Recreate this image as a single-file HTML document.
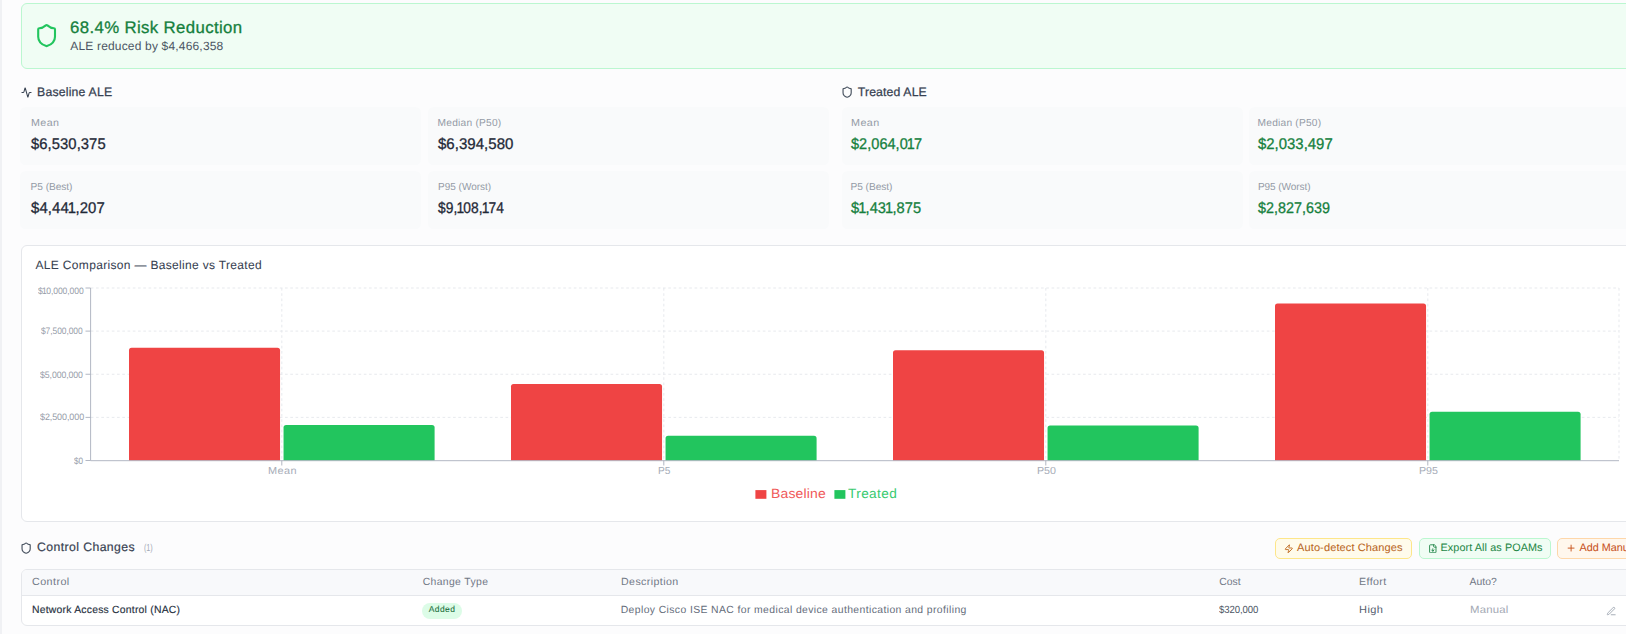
<!DOCTYPE html>
<html lang="en">
<head>
<meta charset="utf-8">
<title>ALE Comparison</title>
<style>
*{box-sizing:border-box;margin:0;padding:0}
html,body{width:1626px;height:634px;overflow:hidden;background:#fcfcfd}
body{font-family:"Liberation Sans",sans-serif;color:#1f2937;position:relative;text-rendering:geometricPrecision}
.abs{position:absolute}
.t{position:absolute;white-space:nowrap;line-height:1;transform-origin:0 50%}
.t i{font-style:normal;margin:0 -0.06em 0 -0.07em}
#edge{left:0;top:0;width:1.9px;height:634px;background:#f0f1f4}
#banner{left:20.6px;top:3px;width:1640px;height:66px;background:#f0fdf4;border:1px solid #bbf7d0;border-radius:6px}
.card{position:absolute;width:401px;height:58.4px;background:#f9fafb;border-radius:5.5px}
#chart{left:20.7px;top:245px;width:1640px;height:277px;background:#fff;border:1px solid #e5e7eb;border-radius:6px}
#tbl{left:20.7px;top:569px;width:1640px;height:57px;background:#fff;border:1px solid #e5e7eb;border-radius:6px;overflow:hidden}
#thead{left:0;top:0;width:1640px;height:26px;background:#f8f9fb;border-bottom:1px solid #e5e7eb}
.btn{position:absolute;height:20.6px;border-radius:5px;border:1px solid}
</style>
</head>
<body>
<div id="edge" class="abs"></div>
<div id="banner" class="abs"></div>
<svg class="abs" id="i_shield" style="left:34.40px;top:22.80px" width="25.2" height="25.2" viewBox="0 0 24 24" fill="none" stroke="#22c55e" stroke-width="2" stroke-linecap="round" stroke-linejoin="round"><path d="M20 13c0 5-3.5 7.5-7.66 8.95a1 1 0 0 1-.67-.01C7.5 20.5 4 18 4 13V6a1 1 0 0 1 1-1c2 0 4.5-1.2 6.24-2.72a1.17 1.17 0 0 1 1.52 0C14.51 3.81 17 5 19 5a1 1 0 0 1 1 1z"/></svg>
<svg class="abs" id="i_act" style="left:20.55px;top:87.20px" width="11" height="11" viewBox="0 0 24 24" fill="none" stroke="#374151" stroke-width="2.2" stroke-linecap="round" stroke-linejoin="round"><path d="M22 12h-2.48a2 2 0 0 0-1.93 1.46l-2.35 8.36a.25.25 0 0 1-.48 0L9.24 2.18a.25.25 0 0 0-.48 0l-2.35 8.36A2 2 0 0 1 4.48 12H2"/></svg>
<svg class="abs" id="i_sh2" style="left:840.88px;top:86.28px" width="12.25" height="12.25" viewBox="0 0 24 24" fill="none" stroke="#4b5563" stroke-width="2.3" stroke-linecap="round" stroke-linejoin="round"><path d="M20 13c0 5-3.5 7.5-7.66 8.95a1 1 0 0 1-.67-.01C7.5 20.5 4 18 4 13V6a1 1 0 0 1 1-1c2 0 4.5-1.2 6.24-2.72a1.17 1.17 0 0 1 1.52 0C14.51 3.81 17 5 19 5a1 1 0 0 1 1 1z"/></svg>
<div class="card" style="left:20.3px;top:106.7px"></div>
<div class="card" style="left:428px;top:106.7px"></div>
<div class="card" style="left:20.3px;top:170.8px"></div>
<div class="card" style="left:428px;top:170.8px"></div>
<div class="card" style="left:842px;top:106.7px"></div>
<div class="card" style="left:1249.2px;top:106.7px"></div>
<div class="card" style="left:842px;top:170.8px"></div>
<div class="card" style="left:1249.2px;top:170.8px"></div>
<div id="chart" class="abs"></div>
<svg id="plot" class="abs" style="left:21px;top:245px" width="1605" height="277" viewBox="21 245 1605 277">
<g stroke="#e4e6ea" stroke-width="0.875" stroke-dasharray="2.625 2.625" fill="none">
<line x1="90.8" y1="288.00" x2="1619.0" y2="288.00"/>
<line x1="90.8" y1="331.12" x2="1619.0" y2="331.12"/>
<line x1="90.8" y1="374.25" x2="1619.0" y2="374.25"/>
<line x1="90.8" y1="417.38" x2="1619.0" y2="417.38"/>
<line x1="281.80" y1="288.0" x2="281.80" y2="460.5"/>
<line x1="663.80" y1="288.0" x2="663.80" y2="460.5"/>
<line x1="1045.80" y1="288.0" x2="1045.80" y2="460.5"/>
<line x1="1427.80" y1="288.0" x2="1427.80" y2="460.5"/>
<line x1="1619.00" y1="288.0" x2="1619.00" y2="460.5"/>
</g>
<path fill="#ef4444" d="M129.00,460.5 V350.45 Q129.00,347.85 131.60,347.85 H277.45 Q280.05,347.85 280.05,350.45 V460.5 Z"/>
<path fill="#22c55e" d="M283.55,460.5 V427.50 Q283.55,424.90 286.15,424.90 H432.00 Q434.60,424.90 434.60,427.50 V460.5 Z"/>
<path fill="#ef4444" d="M511.00,460.5 V386.49 Q511.00,383.89 513.60,383.89 H659.45 Q662.05,383.89 662.05,386.49 V460.5 Z"/>
<path fill="#22c55e" d="M665.55,460.5 V438.40 Q665.55,435.80 668.15,435.80 H814.00 Q816.60,435.80 816.60,438.40 V460.5 Z"/>
<path fill="#ef4444" d="M893.00,460.5 V352.79 Q893.00,350.19 895.60,350.19 H1041.45 Q1044.05,350.19 1044.05,352.79 V460.5 Z"/>
<path fill="#22c55e" d="M1047.55,460.5 V428.02 Q1047.55,425.42 1050.15,425.42 H1196.00 Q1198.60,425.42 1198.60,428.02 V460.5 Z"/>
<path fill="#ef4444" d="M1275.00,460.5 V305.98 Q1275.00,303.38 1277.60,303.38 H1423.45 Q1426.05,303.38 1426.05,305.98 V460.5 Z"/>
<path fill="#22c55e" d="M1429.55,460.5 V414.32 Q1429.55,411.72 1432.15,411.72 H1578.00 Q1580.60,411.72 1580.60,414.32 V460.5 Z"/>
<g stroke="#a9afbc" stroke-width="0.9" fill="none">
<line x1="90.6" y1="288.0" x2="90.6" y2="460.5"/>
<line x1="90.6" y1="460.7" x2="1619.0" y2="460.7"/>
<line x1="85.5" y1="288.00" x2="90.6" y2="288.00"/>
<line x1="85.5" y1="331.12" x2="90.6" y2="331.12"/>
<line x1="85.5" y1="374.25" x2="90.6" y2="374.25"/>
<line x1="85.5" y1="417.38" x2="90.6" y2="417.38"/>
<line x1="85.5" y1="460.50" x2="90.6" y2="460.50"/>
<line x1="281.80" y1="460.5" x2="281.80" y2="465.5"/>
<line x1="663.80" y1="460.5" x2="663.80" y2="465.5"/>
<line x1="1045.80" y1="460.5" x2="1045.80" y2="465.5"/>
<line x1="1427.80" y1="460.5" x2="1427.80" y2="465.5"/>
</g>
<rect x="755.4" y="490.1" width="11" height="8.7" fill="#ef4444"/>
<rect x="834.4" y="490.1" width="11" height="8.7" fill="#22c55e"/>
</svg>
<svg class="abs" id="i_sh3" style="left:19.82px;top:542.27px" width="12.25" height="12.25" viewBox="0 0 24 24" fill="none" stroke="#4b5563" stroke-width="2.3" stroke-linecap="round" stroke-linejoin="round"><path d="M20 13c0 5-3.5 7.5-7.66 8.95a1 1 0 0 1-.67-.01C7.5 20.5 4 18 4 13V6a1 1 0 0 1 1-1c2 0 4.5-1.2 6.24-2.72a1.17 1.17 0 0 1 1.52 0C14.51 3.81 17 5 19 5a1 1 0 0 1 1 1z"/></svg>
<div class="btn" id="b1" style="left:1274.5px;top:538.2px;width:137.8px;background:#fffbeb;border-color:#fde68a"></div>
<div class="btn" id="b2" style="left:1418.6px;top:538.2px;width:132px;background:#f0fdf4;border-color:#bbf7d0"></div>
<div class="btn" id="b3" style="left:1557.2px;top:538.2px;width:110px;background:#fff7ed;border-color:#fed7aa"></div>
<svg class="abs" id="i_zap" style="left:1283.60px;top:543.80px" width="9.6" height="9.6" viewBox="0 0 24 24" fill="none" stroke="#bf6a22" stroke-width="2.3" stroke-linecap="round" stroke-linejoin="round"><path d="M4 14a1 1 0 0 1-.78-1.63l9.9-10.2a.5.5 0 0 1 .86.46l-1.92 6.02A1 1 0 0 0 13 10h7a1 1 0 0 1 .78 1.63l-9.9 10.2a.5.5 0 0 1-.86-.46l1.92-6.02A1 1 0 0 0 11 14z"/></svg>
<svg class="abs" id="i_file" style="left:1427.50px;top:543.70px" width="9.6" height="9.6" viewBox="0 0 24 24" fill="none" stroke="#23884b" stroke-width="2.3" stroke-linecap="round" stroke-linejoin="round"><path d="M15 2H6a2 2 0 0 0-2 2v16a2 2 0 0 0 2 2h12a2 2 0 0 0 2-2V7Z M14 2v4a2 2 0 0 0 2 2h4 M12 18v-6 M9 15l3 3 3-3"/></svg>
<svg class="abs" id="i_plus" style="left:1566.00px;top:543.20px" width="10.2" height="10.2" viewBox="0 0 24 24" fill="none" stroke="#c8521c" stroke-width="2.2" stroke-linecap="round" stroke-linejoin="round"><path d="M5 12h14 M12 5v14"/></svg>
<div id="tbl" class="abs"><div id="thead" class="abs"></div></div>
<div class="abs" id="badge" style="left:422.3px;top:603px;width:40px;height:15.7px;border-radius:8px;background:#dcfce7"></div>
<svg class="abs" id="i_pen" style="left:1606.15px;top:605.55px" width="10.5" height="10.5" viewBox="0 0 24 24" fill="none" stroke="#9ca3af" stroke-width="2" stroke-linecap="round" stroke-linejoin="round"><path d="M12 20h9 M16.376 3.622a1 1 0 0 1 3.002 3.002L7.368 18.635a2 2 0 0 1-.855.506l-2.872.838a.5.5 0 0 1-.62-.62l.838-2.872a2 2 0 0 1 .506-.854z"/></svg>
<div class="t" id="t_title" style="left:70.10px;top:20px;font-size:16.8px;color:#15803d;letter-spacing:0.360px;-webkit-text-stroke:0.3px #15803d">68.4% Risk Reduction</div>
<div class="t" id="t_sub" style="left:70.26px;top:40px;font-size:12px;color:#4b5563;letter-spacing:0.176px">ALE reduced by $4,466,358</div>
<div class="t" id="t_base" style="left:37.00px;top:86px;font-size:12.25px;color:#374151;letter-spacing:0.205px;-webkit-text-stroke:0.25px #374151">Baseline ALE</div>
<div class="t" id="t_treat" style="left:857.80px;top:86px;font-size:12.25px;color:#374151;letter-spacing:0.135px;-webkit-text-stroke:0.25px #374151">Treated ALE</div>
<div class="t" id="l1" style="left:31.00px;top:119px;font-size:10.2px;color:#949aa6;letter-spacing:0.400px;transform:scaleX(1.0485)">Mean</div>
<div class="t" id="l2" style="left:437.60px;top:119px;font-size:10.2px;color:#949aa6;letter-spacing:0.221px">Median (P50)</div>
<div class="t" id="l3" style="left:30.60px;top:183px;font-size:10.2px;color:#949aa6;letter-spacing:-0.080px">P5 (Best)</div>
<div class="t" id="l4" style="left:437.60px;top:183px;font-size:10.2px;color:#949aa6;letter-spacing:0.003px;transform:scaleX(0.9817)">P95 (Worst)</div>
<div class="t" id="l5" style="left:850.56px;top:119px;font-size:10.2px;color:#949aa6;letter-spacing:0.400px;transform:scaleX(1.0554)">Mean</div>
<div class="t" id="l6" style="left:1257.56px;top:119px;font-size:10.2px;color:#949aa6;letter-spacing:0.221px">Median (P50)</div>
<div class="t" id="l7" style="left:850.56px;top:183px;font-size:10.2px;color:#949aa6;letter-spacing:-0.080px">P5 (Best)</div>
<div class="t" id="l8" style="left:1257.56px;top:183px;font-size:10.2px;color:#949aa6;letter-spacing:-0.080px;transform:scaleX(0.9850)">P95 (Worst)</div>
<div class="t" id="v1" style="left:30.82px;top:137px;font-size:15.5px;color:#1f2937;letter-spacing:0.067px;transform:scaleX(0.9545);-webkit-text-stroke:0.3px #1f2937">$6,530,375</div>
<div class="t" id="v2" style="left:438.08px;top:137px;font-size:15.5px;color:#1f2937;letter-spacing:0.023px;transform:scaleX(0.9688);-webkit-text-stroke:0.3px #1f2937">$6,394,580</div>
<div class="t" id="v3" style="left:31.08px;top:201px;font-size:15.5px;color:#1f2937;letter-spacing:0.139px;transform:scaleX(0.9595);-webkit-text-stroke:0.3px #1f2937">$4,44<i>1</i>,207</div>
<div class="t" id="v4" style="left:438.08px;top:201px;font-size:15.5px;color:#1f2937;letter-spacing:0.078px;transform:scaleX(0.8883);-webkit-text-stroke:0.3px #1f2937">$9,<i>1</i>08,<i>1</i>74</div>
<div class="t" id="v5" style="left:851.16px;top:137px;font-size:15.5px;color:#15803d;letter-spacing:0.037px;transform:scaleX(0.9369);-webkit-text-stroke:0.3px #15803d">$2,064,0<i>1</i>7</div>
<div class="t" id="v6" style="left:1258.16px;top:137px;font-size:15.5px;color:#15803d;letter-spacing:0.014px;transform:scaleX(0.9614);-webkit-text-stroke:0.3px #15803d">$2,033,497</div>
<div class="t" id="v7" style="left:851.16px;top:201px;font-size:15.5px;color:#15803d;letter-spacing:0.068px;transform:scaleX(0.9435);-webkit-text-stroke:0.3px #15803d">$<i>1</i>,43<i>1</i>,875</div>
<div class="t" id="v8" style="left:1258.16px;top:201px;font-size:15.5px;color:#15803d;letter-spacing:0.017px;transform:scaleX(0.9258);-webkit-text-stroke:0.3px #15803d">$2,827,639</div>
<div class="t" id="t_chart" style="left:35.56px;top:259px;font-size:12px;color:#374151;letter-spacing:0.321px;-webkit-text-stroke:0.05px #374151">ALE Comparison — Baseline vs Treated</div>
<div class="t" id="y1" style="left:38.00px;top:286px;font-size:9.4px;color:#969ca8;letter-spacing:-0.080px;transform:scaleX(0.9124)">$<i>1</i>0,000,000</div>
<div class="t" id="y2" style="left:41.30px;top:326px;font-size:9.4px;color:#969ca8;letter-spacing:-0.080px;transform:scaleX(0.9006)">$7,500,000</div>
<div class="t" id="y3" style="left:40.40px;top:370px;font-size:9.4px;color:#969ca8;letter-spacing:-0.080px;transform:scaleX(0.9298)">$5,000,000</div>
<div class="t" id="y4" style="left:39.90px;top:412px;font-size:9.4px;color:#969ca8;letter-spacing:-0.080px;transform:scaleX(0.9550)">$2,500,000</div>
<div class="t" id="y5" style="left:74.20px;top:456px;font-size:9.4px;color:#969ca8;letter-spacing:-0.080px;transform:scaleX(0.8691)">$0</div>
<div class="t" id="x1" style="left:267.80px;top:467px;font-size:10.2px;color:#a6acb7;letter-spacing:0.400px;transform:scaleX(1.0692)">Mean</div>
<div class="t" id="x2" style="left:657.90px;top:467px;font-size:10.2px;color:#a6acb7;letter-spacing:0.000px">P5</div>
<div class="t" id="x3" style="left:1036.50px;top:467px;font-size:10.2px;color:#a6acb7;letter-spacing:-0.029px;transform:scaleX(1.0500)">P50</div>
<div class="t" id="x4" style="left:1418.50px;top:467px;font-size:10.2px;color:#a6acb7;letter-spacing:-0.029px;transform:scaleX(1.0500)">P95</div>
<div class="t" id="lg1" style="left:771.12px;top:487px;font-size:13.3px;color:#f05a5a;letter-spacing:0.155px;transform:scaleX(1.0512)">Baseline</div>
<div class="t" id="lg2" style="left:848.40px;top:487px;font-size:13.3px;color:#38ca70;letter-spacing:0.400px;transform:scaleX(1.0225)">Treated</div>
<div class="t" id="t_cc" style="left:37.10px;top:541px;font-size:12.25px;color:#374151;letter-spacing:0.400px;-webkit-text-stroke:0.2px #374151">Control Changes</div>
<div class="t" id="t_cnt" style="left:143.70px;top:544px;font-size:10.2px;color:#a3a9b6;letter-spacing:-0.080px;transform:scaleX(0.7053)">(1)</div>
<div class="t" id="t_b1" style="left:1296.94px;top:543px;font-size:10.8px;color:#b9651d;letter-spacing:0.106px;transform:scaleX(1.0216);-webkit-text-stroke:0.05px #b9651d">Auto-detect Changes</div>
<div class="t" id="t_b2" style="left:1440.50px;top:543px;font-size:10.8px;color:#1d8746;letter-spacing:0.100px;-webkit-text-stroke:0.05px #1d8746">Export All as POAMs</div>
<div class="t" id="t_b3" style="left:1579.44px;top:543px;font-size:10.8px;color:#c8521c;letter-spacing:0.000px;-webkit-text-stroke:0.05px #c8521c">Add Manual</div>
<div class="t" id="h1" style="left:32.00px;top:578px;font-size:10.4px;color:#717886;letter-spacing:0.400px;transform:scaleX(1.0353)">Control</div>
<div class="t" id="h2" style="left:422.70px;top:578px;font-size:10.4px;color:#717886;letter-spacing:0.360px">Change Type</div>
<div class="t" id="h3" style="left:620.70px;top:578px;font-size:10.4px;color:#717886;letter-spacing:0.400px;transform:scaleX(1.0209)">Description</div>
<div class="t" id="h4" style="left:1219.20px;top:578px;font-size:10.4px;color:#717886;letter-spacing:0.000px">Cost</div>
<div class="t" id="h5" style="left:1358.50px;top:578px;font-size:10.4px;color:#717886;letter-spacing:0.400px;transform:scaleX(1.0233)">Effort</div>
<div class="t" id="h6" style="left:1469.60px;top:578px;font-size:10.4px;color:#717886;letter-spacing:0.000px">Auto?</div>
<div class="t" id="d1" style="left:32.00px;top:606px;font-size:10.4px;color:#273141;letter-spacing:0.220px;-webkit-text-stroke:0.15px #273141">Network Access Control (NAC)</div>
<div class="t" id="d2" style="left:428.72px;top:605px;font-size:8.5px;color:#23703f;letter-spacing:0.400px;-webkit-text-stroke:0.08px #23703f">Added</div>
<div class="t" id="d3" style="left:620.70px;top:606px;font-size:10.4px;color:#656d7b;letter-spacing:0.392px">Deploy Cisco ISE NAC for medical device authentication and profiling</div>
<div class="t" id="d4" style="left:1219.20px;top:606px;font-size:10.4px;color:#4b5563;letter-spacing:-0.080px;transform:scaleX(0.9218)">$320,000</div>
<div class="t" id="d5" style="left:1358.50px;top:606px;font-size:10.4px;color:#566070;letter-spacing:0.400px;transform:scaleX(1.0614)">High</div>
<div class="t" id="d6" style="left:1469.76px;top:606px;font-size:10.4px;color:#a3a9b4;letter-spacing:0.202px;transform:scaleX(1.0929)">Manual</div>
</body>
</html>
